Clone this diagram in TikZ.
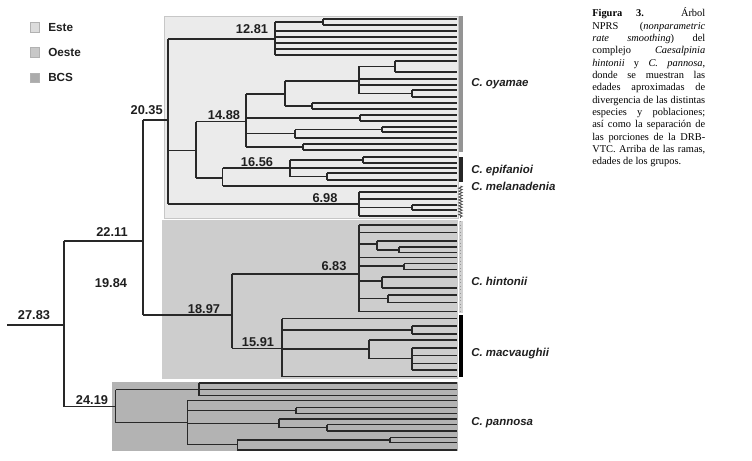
\documentclass[tikz,border=0pt]{standalone}
\usepackage{fontspec}
\setmainfont{Liberation Serif}
\newfontfamily\lsans{Liberation Sans}
\usetikzlibrary{decorations.pathmorphing}
\definecolor{este}{HTML}{EBEBEB}
\definecolor{oeste}{HTML}{CDCDCD}
\definecolor{bcs}{HTML}{B3B3B3}
\definecolor{branch}{HTML}{282828}
\definecolor{legE}{HTML}{DCDCDC}
\definecolor{legO}{HTML}{C8C8C8}
\definecolor{legB}{HTML}{ABABAB}
\tikzset{
  br/.style={draw=branch, line width=1pt},
  age/.style={font=\lsans\bfseries\fontsize{9.6}{11}\selectfont, text=black!88, inner sep=0pt},
  sp/.style={font=\lsans\bfseries\itshape\fontsize{8.6}{10}\selectfont, text=black!88, anchor=base west, inner sep=0pt},
  leg/.style={font=\lsans\bfseries\fontsize{8.8}{10}\selectfont, text=black!88, anchor=base west, inner sep=0pt},
  legbox/.style={draw=black!30, fill=#1, line width=0.4pt},
}
\newcommand\tvl[3]{\draw[br] (#1,#2) -- (#1,#3);}
\newcommand\thl[3]{\draw[br] (#1,#3) -- (#2,#3);}
\newcommand\tlf[2]{\draw[br] (#1,#2) -- (457,#2);}
\begin{document}
\begin{tikzpicture}[x=0.75pt,y=-0.75pt]
\useasboundingbox (0,0) rectangle (752,460);
\fill[white] (0,0) rectangle (752,460);
% region boxes
\filldraw[fill=este, draw=black!22, line width=0.5pt] (164,16) rectangle (458,218);
\fill[oeste] (162,219.5) rectangle (457.5,379);
\fill[bcs] (112,382) rectangle (457.5,450.5);
% legend
\draw[legbox=legE] (30,22) rectangle (39,32);
\draw[legbox=legO] (30,47.5) rectangle (39,57);
\draw[legbox=legB] (30,73) rectangle (39,82);
\node[leg] (lgE) at (48,31.3) {Este};
\node[leg] (lgO) at (48,56.3) {Oeste};
\node[leg] (lgB) at (48,81.3) {BCS};
% side bars
\fill[black!42] (458.5,16) rectangle (462.5,152);
\fill[black!85] (458.5,157) rectangle (462.5,182);
\draw[decorate, decoration={zigzag, segment length=2.2pt, amplitude=1.3pt}, line width=0.6pt, black!70] (460.5,186) -- (460.5,218);
\fill[black!18] (458.5,221) rectangle (462.5,313);
\draw[dotted, black!40, line width=0.7pt] (460.5,221) -- (460.5,313);
\fill[black] (458.5,315) rectangle (462.5,377);
% ---------- tree ----------
% root
\thl{7}{64}{325} \tvl{64}{241}{406.7}
\thl{64}{143}{241} \tvl{143}{120}{315}
\thl{64}{115.7}{406.7}
% 20.35
\thl{143}{168}{120} \tvl{168}{39}{204}
% 12.81
\thl{168}{275}{39} \tvl{275}{22}{55}
\thl{275}{323}{22} \tvl{323}{19}{25} \tlf{323}{19} \tlf{323}{25}
\tlf{275}{31} \tlf{275}{37} \tlf{275}{43} \tlf{275}{49} \tlf{275}{55}
% node 196
\thl{168}{196}{150.7} \tvl{196}{121.7}{178}
% 14.88
\thl{196}{246}{121.7} \tvl{246}{94}{147}
\thl{246}{285}{94} \tvl{285}{81}{106}
\thl{285}{359}{81} \tvl{359}{66.5}{93.5}
\thl{359}{395}{66.5} \tvl{395}{61}{72} \tlf{395}{61} \tlf{395}{72}
\tlf{359}{79} \tlf{359}{85}
\thl{359}{412}{93.5} \tvl{412}{90}{97} \tlf{412}{90} \tlf{412}{97}
\thl{285}{312}{106} \tvl{312}{103}{109} \tlf{312}{103} \tlf{312}{109}
\thl{246}{360}{118} \tvl{360}{115}{121} \tlf{360}{115} \tlf{360}{121}
\thl{246}{295}{133.5} \tvl{295}{129.5}{138}
\thl{295}{382}{129.5} \tvl{382}{127}{132} \tlf{382}{127} \tlf{382}{132}
\tlf{295}{138}
\thl{246}{303}{147} \tvl{303}{144}{150} \tlf{303}{144} \tlf{303}{150}
% node 222.7 and 16.56
\thl{196}{222.7}{178} \tvl{222.7}{168}{186}
\thl{222.7}{290}{168} \tvl{290}{160}{176.5}
\thl{290}{363}{160} \tvl{363}{157}{163} \tlf{363}{157} \tlf{363}{163}
\tlf{290}{168}
\thl{290}{327}{176.5} \tvl{327}{173}{180} \tlf{327}{173} \tlf{327}{180}
\tlf{222.7}{186}
% 6.98
\thl{168}{359}{204} \tvl{359}{192}{216}
\tlf{359}{192} \tlf{359}{199}
\thl{359}{412}{207.5} \tvl{412}{205}{210} \tlf{412}{205} \tlf{412}{210}
\tlf{359}{216}
% 18.97
\thl{143}{232}{315} \tvl{232}{274}{348.3}
% 6.83
\thl{232}{359}{274} \tvl{359}{225}{311.7}
\tlf{359}{225} \tlf{359}{232.7} \tlf{359}{257.7} \tlf{359}{311.7}
\thl{359}{377}{244} \tvl{377}{241}{250} \tlf{377}{241}
\thl{377}{399}{250} \tvl{399}{247}{252.7} \tlf{399}{247} \tlf{399}{252.7}
\thl{359}{404}{266} \tvl{404}{263.5}{269.5} \tlf{404}{263.5} \tlf{404}{269.5}
\thl{359}{382}{281} \tvl{382}{277}{288} \tlf{382}{277} \tlf{382}{288}
\thl{359}{388}{298.5} \tvl{388}{295}{302.7} \tlf{388}{295} \tlf{388}{302.7}
% 15.91
\thl{232}{282}{348.3} \tvl{282}{318.5}{376.5}
\tlf{282}{318.5}
\thl{282}{412}{330} \tvl{412}{326}{334} \tlf{412}{326} \tlf{412}{334}
\thl{282}{369}{349} \tvl{369}{340}{358.5} \tlf{369}{340}
\thl{369}{412}{358.5} \tvl{412}{348}{370}
\tlf{412}{348} \tlf{412}{355.7} \tlf{412}{363.3} \tlf{412}{370}
\tlf{282}{376.5}
% 24.19 (pannosa)
\tvl{115.7}{389.5}{422.7}
\thl{115.7}{199}{389.5} \tvl{199}{383}{395.7}
\tlf{199}{383} \tlf{199}{389.5} \tlf{199}{395.7}
\thl{115.7}{187.3}{422.7} \tvl{187.3}{400.7}{444.3}
\tlf{187.3}{400.7}
\thl{187.3}{296}{410.5} \tvl{296}{407.5}{413.5} \tlf{296}{407.5} \tlf{296}{413.5}
\thl{187.3}{279}{423.3} \tvl{279}{419}{427.7} \tlf{279}{419}
\thl{279}{327}{427.7} \tvl{327}{424.5}{431} \tlf{327}{424.5} \tlf{327}{431}
\thl{187.3}{237.3}{444.3} \tvl{237.3}{440}{450}
\thl{237.3}{390}{440} \tvl{390}{437.7}{442.7} \tlf{390}{437.7} \tlf{390}{442.7}
\tlf{237.3}{450}
% ages
\node[age] (a1281) at (252,29) {12.81};
\node[age] (a2035) at (146.7,110) {20.35};
\node[age] (a1488) at (224,115) {14.88};
\node[age] (a1656) at (257,162) {16.56};
\node[age] (a698) at (325,198) {6.98};
\node[age] (a2211) at (112,232) {22.11};
\node[age] (a1984) at (111,283) {19.84};
\node[age] (a2783) at (34,315) {27.83};
\node[age] (a1897) at (204,309) {18.97};
\node[age] (a683) at (334,266) {6.83};
\node[age] (a1591) at (258,342) {15.91};
\node[age] (a2419) at (92,400) {24.19};
% species
\node[sp] (sOy) at (471,86) {C. oyamae};
\node[sp] (sEp) at (471,173.3) {C. epifanioi};
\node[sp] (sMe) at (471,190) {C. melanadenia};
\node[sp] (sHi) at (471,285) {C. hintonii};
\node[sp] (sMa) at (471,356) {C. macvaughii};
\node[sp] (sPa) at (471,425.7) {C. pannosa};
% caption
\node[anchor=north west, inner sep=0pt, align=left, font=\fontsize{7.8}{9.25}\selectfont] (cap) at (592,7.5) {%
\makebox[84.75pt][s]{\textbf{Figura 3.} Árbol}\\
\makebox[84.75pt][s]{NPRS (\textit{nonparametric}}\\
\makebox[84.75pt][s]{\textit{rate smoothing}) del}\\
\makebox[84.75pt][s]{complejo \textit{Caesalpinia}}\\
\makebox[84.75pt][s]{\textit{hintonii} y \textit{C. pannosa},}\\
\makebox[84.75pt][s]{donde se muestran las}\\
\makebox[84.75pt][s]{edades aproximadas de}\\
\makebox[84.75pt][s]{divergencia de las distintas}\\
\makebox[84.75pt][s]{especies y poblaciones;}\\
\makebox[84.75pt][s]{así como la separación de}\\
\makebox[84.75pt][s]{las porciones de la DRB-}\\
\makebox[84.75pt][s]{VTC. Arriba de las ramas,}\\
edades de los grupos.};
\end{tikzpicture}
\end{document}
